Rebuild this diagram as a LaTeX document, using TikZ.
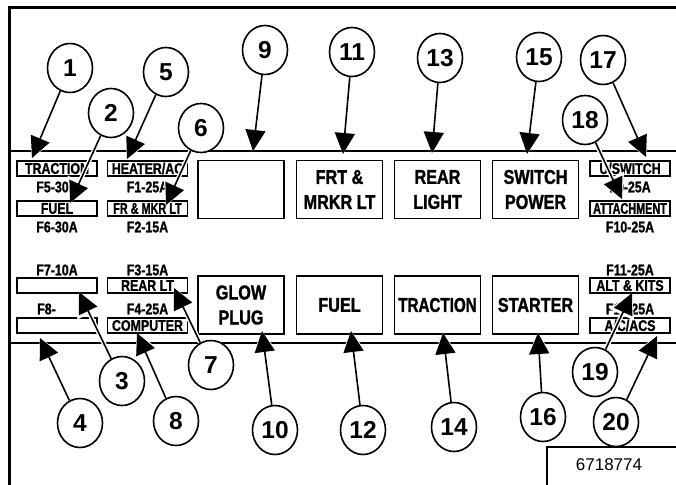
\documentclass[tikz,border=0pt]{standalone}
\usepackage{fontspec}
\setmainfont{Liberation Sans}
\newfontfamily\cond[FakeStretch=0.8,FakeBold=1.2]{Liberation Sans Bold}
\newfontfamily\condn[FakeStretch=0.7,FakeBold=1.2]{Liberation Sans Bold}
\newfontfamily\condb[FakeStretch=0.81,FakeBold=1.4]{Liberation Sans Bold}
\newfontfamily\condbn[FakeStretch=0.76,FakeBold=1.4]{Liberation Sans Bold}
\usetikzlibrary{arrows.meta,shapes.geometric}
\pgfdeclarelayer{fg}
\pgfsetlayers{main,fg}
\begin{document}
\begin{tikzpicture}[x=1pt,y=-1pt,
 num/.style={ellipse, draw, line width=1.6pt, minimum width=45pt, minimum height=49pt, inner sep=0pt, fill=white, font=\fontsize{24.5}{24.5}\selectfont\bfseries},
 big/.style={draw, line width=1.2pt, minimum width=86pt, minimum height=58pt, inner sep=0pt, align=center, font=\condb\fontsize{20}{25}\selectfont},
 small/.style={draw, line width=1.1pt, minimum width=80pt, minimum height=15pt, inner sep=0pt, font=\cond\fontsize{15.5}{15.5}\selectfont},
 lbl/.style={inner sep=0pt, font=\cond\fontsize{15.5}{15.5}\selectfont},
 arr/.style={line width=1.6pt, -{Triangle[length=21pt,width=20pt]}, preaction={draw=white, line width=4.5pt, -{Triangle[length=24pt,width=26pt]}}},
 rule/.style={line width=1.2pt},
 frame/.style={line width=3pt}
]
\useasboundingbox (0,0) rectangle (676,484);
% frame
\draw[frame] (9,486) -- (9,8) -- (678,8);
\draw[rule] (9,151) -- (677,151);
\draw[rule] (9,343) -- (677,343);
% big boxes
\node[big] (b9)  at (241,189.5) {};
\node[big] (b11) at (339.5,189.5) {FRT \&\\MRKR LT};
\node[big] (b13) at (437.5,189.5) {REAR\\LIGHT};
\node[big] (b15) at (535.5,189.5) {SWITCH\\POWER};
\node[big] (b10) at (241,305) {GLOW\\PLUG};
\node[big] (b12) at (339.5,305) {FUEL};
\node[big, font=\condbn\fontsize{20}{25}\selectfont] (b14) at (437.5,305) {TRACTION};
\node[big] (b16) at (535.5,305) {STARTER};
% small boxes, left columns
\node[small] (s5)  at (57,168.5) {TRACTION};
\node[lbl]   (l5)  at (57,187) {F5-30A};
\node[small] (s6)  at (57,208.5) {FUEL};
\node[lbl]   (l6)  at (57,227) {F6-30A};
\node[small] (s1)  at (147.5,168.5) {HEATER/AC};
\node[lbl]   (l1)  at (147.5,187) {F1-25A};
\node[small, font=\condn\fontsize{15.5}{15.5}\selectfont] (s2)  at (147.5,208.5) {FR \& MKR LT};
\node[lbl]   (l2)  at (147.5,227) {F2-15A};
\node[lbl]   (l7)  at (57,270) {F7-10A};
\node[small] (s7)  at (57,285.5) {};
\node[lbl, anchor=west] (l8) at (37,309) {F8-};
\node[small] (s8)  at (57,325.5) {};
\node[lbl]   (l3)  at (147.5,270) {F3-15A};
\node[small] (s3)  at (147.5,285.5) {REAR LT};
\node[lbl]   (l4)  at (147.5,309) {F4-25A};
\node[small] (s4)  at (147.5,325.5) {COMPUTER};
% small boxes, right column
\node[small] (s9)  at (630,168.5) {U/SWITCH};
\node[lbl]   (l9)  at (630,187) {F9-25A};
\node[small, font=\condn\fontsize{15.5}{15.5}\selectfont] (s10) at (630,208.5) {ATTACHMENT};
\node[lbl]   (l10) at (630,227) {F10-25A};
\node[lbl]   (l11) at (630,270) {F11-25A};
\node[small] (s11) at (630,285.5) {ALT \& KITS};
\node[lbl]   (l12) at (630,309) {F12-25A};
\node[small] (s12) at (630,325.5) {A/C/ACS};
% id box
\draw[line width=1.2pt] (547,486) -- (547,447) -- (678,447);
\node[font=\fontsize{17}{17}\selectfont] (id) at (609,465) {6718774};
% circles
\begin{pgfonlayer}{fg}
\node[num] (c1)  at (70,68) {1};
\node[num] (c2)  at (111,113) {2};
\node[num] (c5)  at (166,72) {5};
\node[num] (c6)  at (201,128) {6};
\node[num] (c9)  at (265,50) {9};
\node[num] (c11) at (352,52) {11};
\node[num] (c13) at (440,58) {13};
\node[num] (c15) at (539,57) {15};
\node[num] (c17) at (603,60) {17};
\node[num] (c18) at (585,120) {18};
\node[num] (c3)  at (122,381) {3};
\node[num] (c4)  at (80,423) {4};
\node[num] (c7)  at (211,365) {7};
\node[num] (c8)  at (176,421) {8};
\node[num] (c10) at (275,430) {10};
\node[num] (c12) at (363,430) {12};
\node[num] (c14) at (454,427) {14};
\node[num] (c16) at (543,417) {16};
\node[num] (c19) at (595,372) {19};
\node[num] (c20) at (616,422) {20};
\end{pgfonlayer}
% arrow tips
\coordinate (t1)  at (32,158);
\coordinate (t2)  at (70,203);
\coordinate (t5)  at (127,159);
\coordinate (t6)  at (166,205);
\coordinate (t9)  at (253,151);
\coordinate (t11) at (343,154);
\coordinate (t13) at (432,153);
\coordinate (t15) at (527,154);
\coordinate (t17) at (646,157);
\coordinate (t18) at (622,199);
\coordinate (t3)  at (79,292);
\coordinate (t4)  at (40,338);
\coordinate (t7)  at (174,288);
\coordinate (t8)  at (137,333);
\coordinate (t10) at (262,331);
\coordinate (t12) at (351,331);
\coordinate (t14) at (443,333);
\coordinate (t16) at (538,333);
\coordinate (t19) at (632,293);
\coordinate (t20) at (657,336);
\foreach \n in {1,2,5,6,9,11,13,15,17,18,3,4,7,8,10,12,14,16,19,20}
  \draw[arr] (c\n) -- (t\n);
\end{tikzpicture}
\end{document}
